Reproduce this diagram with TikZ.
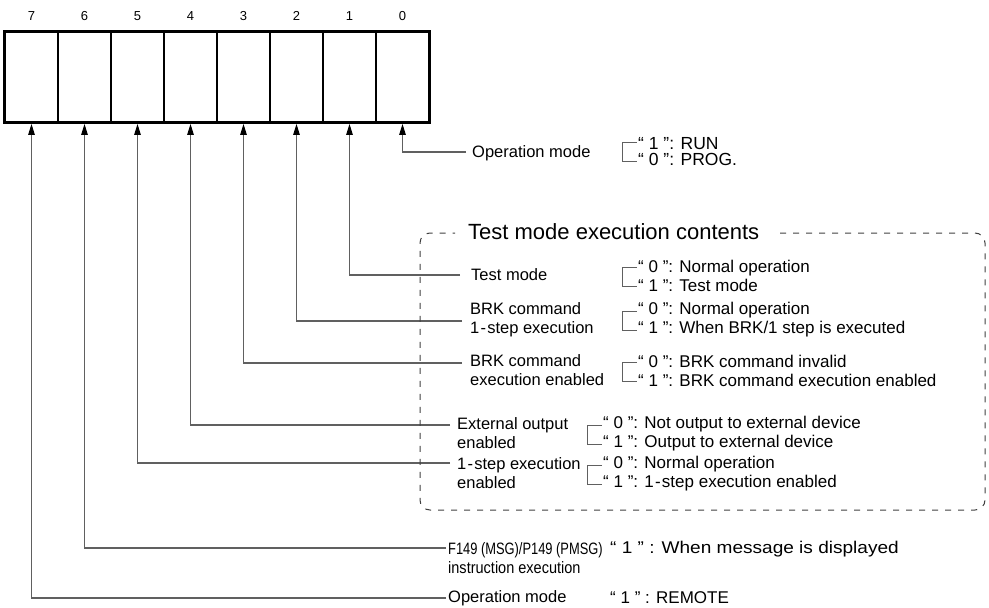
\documentclass[tikz,border=0pt]{standalone}
\usepackage{fontspec}
\setmainfont{Liberation Sans}
\newfontfamily\narrowfont[FakeStretch=0.78]{Liberation Sans}
\newfontfamily\midfont[FakeStretch=0.88]{Liberation Sans}
\newfontfamily\widefont[FakeStretch=1.12]{Liberation Sans}
\usetikzlibrary{arrows.meta}
\definecolor{lgray}{HTML}{606060}
\definecolor{dgray}{HTML}{404040}
\newcommand{\stp}{1\kern1.2pt-\kern1.2pt step}
\begin{document}
\begin{tikzpicture}[x=1pt,y=-1pt,
  cell/.style={draw,line width=1.2pt,minimum width=53pt,minimum height=90pt,inner sep=0pt},
  bitno/.style={font=\fontsize{13}{15}\selectfont},
  lab/.style={anchor=west,inner sep=0pt,align=left,font=\fontsize{16.5}{19}\selectfont},
  val/.style={anchor=west,inner sep=0pt,align=left,font=\fontsize{17}{19}\selectfont},
  conn/.style={draw=lgray,line width=1.1pt,-{Triangle[length=11pt,width=6.5pt,color=black]},shorten >=1.3pt},
  brk/.style={draw=lgray,line width=1pt},
  dbox/.style={draw=dgray,line width=1pt,dash pattern=on 6pt off 7pt,rounded corners=10pt}
]
\useasboundingbox (0,0) rectangle (989,608);
% register cells
\foreach \b in {0,...,7}{
  \node[cell] (c\b) at ({31.5+53*(7-\b)},77) {};
  \node[bitno] (n\b) at ({31.5+53*(7-\b)},16) {\b};
}
\draw[line width=2.6pt] (c7.north west) rectangle (c0.south east);
% label end points of connectors
\coordinate (e0) at (466,152);
\coordinate (e1) at (460,275);
\coordinate (e2) at (462,321);
\coordinate (e3) at (462,363);
\coordinate (e4) at (450,425);
\coordinate (e5) at (450,463);
\coordinate (e6) at (446,548);
\coordinate (e7) at (446,598);
\foreach \b in {0,...,7}{ \draw[conn] (e\b) -| (c\b.south); }
% labels
\node[lab] (l0) at (472,153) {Operation mode};
\node[lab] (l1) at (471,275) {Test mode};
\node[lab] (l2) at (470,319.5) {BRK command\\\stp{} execution};
\node[lab] (l3) at (470,370.5) {BRK command\\execution enabled};
\node[lab] (l4) at (457,433.5) {External output\\enabled};
\node[lab] (l5) at (457,473.5) {\stp{} execution\\enabled};
\node[lab] (l6) at (448,558.5) {{\narrowfont F149 (MSG)/P149 (PMSG)}\\{\midfont instruction execution}};
\node[lab] (l7) at (448,598) {Operation mode};
% values
\node[val,font=\fontsize{17.5}{16}\selectfont] (v0) at (638,152) {“ 1 ”: RUN\\“ 0 ”: PROG.};
\node[val] (v1) at (638,275.5) {“ 0 ”: Normal operation\\“ 1 ”: Test mode};
\node[val] (v2) at (638,319.5) {“ 0 ”: Normal operation\\“ 1 ”: When BRK/1 step is executed};
\node[val] (v3) at (638,370.5) {“ 0 ”: BRK command invalid\\“ 1 ”: BRK command execution enabled};
\node[val] (v4) at (603,433.5) {“ 0 ”: Not output to external device\\“ 1 ”: Output to external device};
\node[val] (v5) at (603,473.5) {“ 0 ”: Normal operation\\“ 1 ”: \stp{} execution enabled};
\node[val,font=\widefont\fontsize{17}{19}\selectfont] (v6) at (610,549) {“ 1 ” : When message is displayed};
\node[val] (v7) at (610,598) {“ 1 ” : REMOTE};
% brackets
\draw[brk] (637,142) -- (622,142) -- (622,161) -- (637,161);
\draw[brk] (637,267) -- (622,267) -- (622,286) -- (637,286);
\draw[brk] (637,311) -- (622,311) -- (622,330) -- (637,330);
\draw[brk] (637,362) -- (622,362) -- (622,381) -- (637,381);
\draw[brk] (602,425) -- (587,425) -- (587,444) -- (602,444);
\draw[brk] (602,465) -- (587,465) -- (587,484) -- (602,484);
% dashed group box
\node[anchor=west,inner sep=0pt,font=\fontsize{22}{24}\selectfont] (title) at (468,232) {Test mode execution contents};
\draw[dbox] (780,233) -- (985,233) -- (985,510) -- (420,510) -- (420,233) -- (455,233);
\end{tikzpicture}
\end{document}
